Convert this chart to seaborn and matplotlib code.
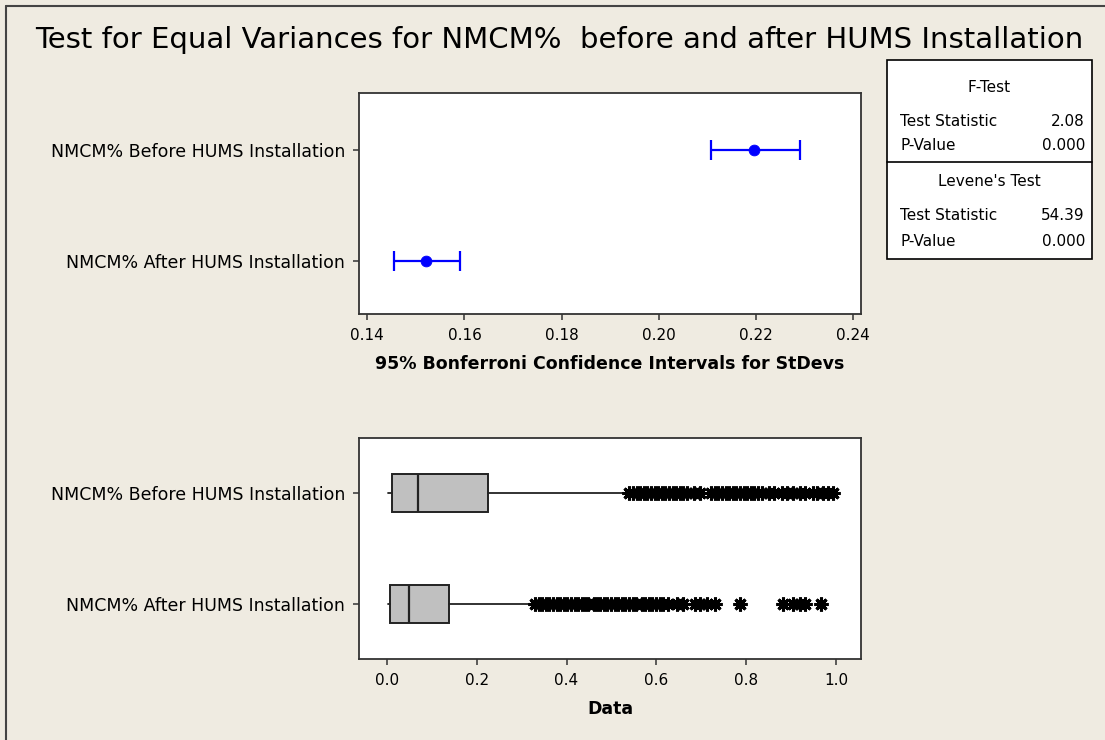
import matplotlib
matplotlib.use("Agg")
import matplotlib.pyplot as plt
import seaborn as sns
from matplotlib.patches import Rectangle
from matplotlib.lines import Line2D

# groups
groups = ["NMCM% Before HUMS Installation", "NMCM% After HUMS Installation"]

# 95% Bonferroni CI for StDevs
ci_center = [0.2195, 0.1520]
ci_low = [0.2107, 0.1456]
ci_high = [0.2290, 0.1591]

# box plot stats
whis_lo = [0.003, 0.003]
q1 = [0.012, 0.007]
med = [0.070, 0.049]
q3 = [0.225, 0.138]
whis_hi = [0.539, 0.330]

fliers_before = [0.540, 0.548, 0.556, 0.564, 0.572, 0.580, 0.588, 0.596, 0.604,
                 0.612, 0.620, 0.628, 0.636, 0.644, 0.652, 0.660, 0.668, 0.683,
                 0.697, 0.722, 0.730, 0.738, 0.746, 0.754, 0.762, 0.770, 0.778,
                 0.786, 0.794, 0.802, 0.810, 0.818, 0.826, 0.834, 0.850, 0.862,
                 0.879, 0.890, 0.904, 0.919, 0.930, 0.948, 0.958, 0.970, 0.982,
                 0.993]
fliers_after = [0.330, 0.338, 0.346, 0.354, 0.362, 0.370, 0.378, 0.386, 0.394,
                0.402, 0.410, 0.418, 0.426, 0.434, 0.442, 0.448, 0.460, 0.467,
                0.475, 0.483, 0.491, 0.499, 0.507, 0.515, 0.523, 0.531, 0.539,
                0.547, 0.555, 0.567, 0.575, 0.583, 0.591, 0.599, 0.607, 0.615,
                0.626, 0.645, 0.660, 0.686, 0.697, 0.712, 0.730, 0.786, 0.882,
                0.904, 0.919, 0.930, 0.967]

# test results
f_stat, f_p = "2.08", "0.000"
lev_stat, lev_p = "54.39", "0.000"

sns.set_style("ticks")
plt.rcParams["font.family"] = ["DejaVu Sans"]
plt.rcParams["text.color"] = "black"
plt.rcParams["axes.labelcolor"] = "black"
plt.rcParams["xtick.labelcolor"] = "black"
plt.rcParams["ytick.labelcolor"] = "black"
bg = "#EFEBE1"
edge = "#333333"

fig = plt.figure(figsize=(11.05, 7.40), dpi=100, facecolor=bg)
W, H = 1105, 740


def ax_rect(l, t, r, b):
    return [l / W, 1 - b / H, (r - l) / W, (b - t) / H]


ax1 = fig.add_axes(ax_rect(359, 93, 861, 314))
ax2 = fig.add_axes(ax_rect(359, 438, 861, 659))

# top: CI plot
pos = [0, 1]
xerr = [[c - l for c, l in zip(ci_center, ci_low)],
        [h - c for c, h in zip(ci_center, ci_high)]]
ax1.errorbar(ci_center, pos, xerr=xerr, fmt="none", ecolor="#0000FF",
             elinewidth=1.6, capsize=7, capthick=1.6)
sns.scatterplot(x=ci_center, y=pos, ax=ax1, color="#0000FF", s=60,
                edgecolor="#0000FF", zorder=3)
ax1.set_xlim(0.1383, 0.2416)
ax1.set_ylim(1.48, -0.52)
ax1.set_xticks([0.14, 0.16, 0.18, 0.20, 0.22, 0.24])
ax1.set_xticklabels(["0.14", "0.16", "0.18", "0.20", "0.22", "0.24"])
ax1.set_yticks(pos)
ax1.set_yticklabels(groups)
ax1.set_xlabel("95% Bonferroni Confidence Intervals for StDevs",
               fontweight="bold", fontsize=12.5, labelpad=9)

# bottom: box plot
stats = []
for i in range(2):
    stats.append(dict(whislo=whis_lo[i], q1=q1[i], med=med[i], q3=q3[i],
                      whishi=whis_hi[i],
                      fliers=fliers_before if i == 0 else fliers_after))
ax2.bxp(stats, positions=pos, vert=False, widths=0.34, patch_artist=True,
        showcaps=False,
        boxprops=dict(facecolor="#C0C0C0", edgecolor="#222222", linewidth=1.4),
        medianprops=dict(color="#222222", linewidth=1.6),
        whiskerprops=dict(color="#222222", linewidth=1.3),
        flierprops=dict(marker=(8, 2, 0), markersize=10, markeredgecolor="black",
                        markeredgewidth=2.2, linestyle="none"))
ax2.set_xlim(-0.0616, 1.055)
ax2.set_ylim(1.5, -0.5)
ax2.set_xticks([0.0, 0.2, 0.4, 0.6, 0.8, 1.0])
ax2.set_xticklabels(["0.0", "0.2", "0.4", "0.6", "0.8", "1.0"])
ax2.set_yticks(pos)
ax2.set_yticklabels(groups)
ax2.set_xlabel("Data", fontweight="bold", fontsize=12.5, labelpad=9)

for ax in (ax1, ax2):
    ax.set_facecolor("white")
    for sp in ax.spines.values():
        sp.set_visible(True)
        sp.set_color(edge)
        sp.set_linewidth(1.3)
    ax.tick_params(axis="both", direction="out", length=4, width=1.1,
                   color=edge, labelsize=11, pad=6)
    ax.tick_params(axis="y", labelsize=12.5, pad=6)

# title
fig.text(35 / W, 1 - 40 / H, "Test for Equal Variances for NMCM%  before and after HUMS Installation",
         fontsize=21, ha="left", va="center")

# outer frame lines
fig.add_artist(Line2D([6 / W, 6 / W], [0, 1 - 6 / H], color="#444444", lw=1.5))
fig.add_artist(Line2D([6 / W, 1], [1 - 6 / H, 1 - 6 / H], color="#444444", lw=1.5))

# results table
tl, tr, tt, tb, tm = 887, 1092, 60, 259, 162
fig.add_artist(Rectangle((tl / W, 1 - tb / H), (tr - tl) / W, (tb - tt) / H,
                         transform=fig.transFigure, facecolor="white",
                         edgecolor="black", lw=1.2))
fig.add_artist(Line2D([tl / W, tr / W], [1 - tm / H, 1 - tm / H],
                      color="black", lw=1.2))
fs = 11
cx = (tl + tr) / 2 / W
fig.text(cx, 1 - 88 / H, "F-Test", fontsize=fs, ha="center", va="center")
fig.text(900 / W, 1 - 121 / H, "Test Statistic", fontsize=fs, va="center")
fig.text(1085 / W, 1 - 121 / H, f_stat, fontsize=fs, ha="right", va="center")
fig.text(900 / W, 1 - 146 / H, "P-Value", fontsize=fs, va="center")
fig.text(1085 / W, 1 - 146 / H, f_p, fontsize=fs, ha="right", va="center")
fig.text(cx, 1 - 181 / H, "Levene's Test", fontsize=fs, ha="center", va="center")
fig.text(900 / W, 1 - 215 / H, "Test Statistic", fontsize=fs, va="center")
fig.text(1085 / W, 1 - 215 / H, lev_stat, fontsize=fs, ha="right", va="center")
fig.text(900 / W, 1 - 242 / H, "P-Value", fontsize=fs, va="center")
fig.text(1085 / W, 1 - 242 / H, lev_p, fontsize=fs, ha="right", va="center")

fig.savefig("out.png", dpi=100, facecolor=bg)
